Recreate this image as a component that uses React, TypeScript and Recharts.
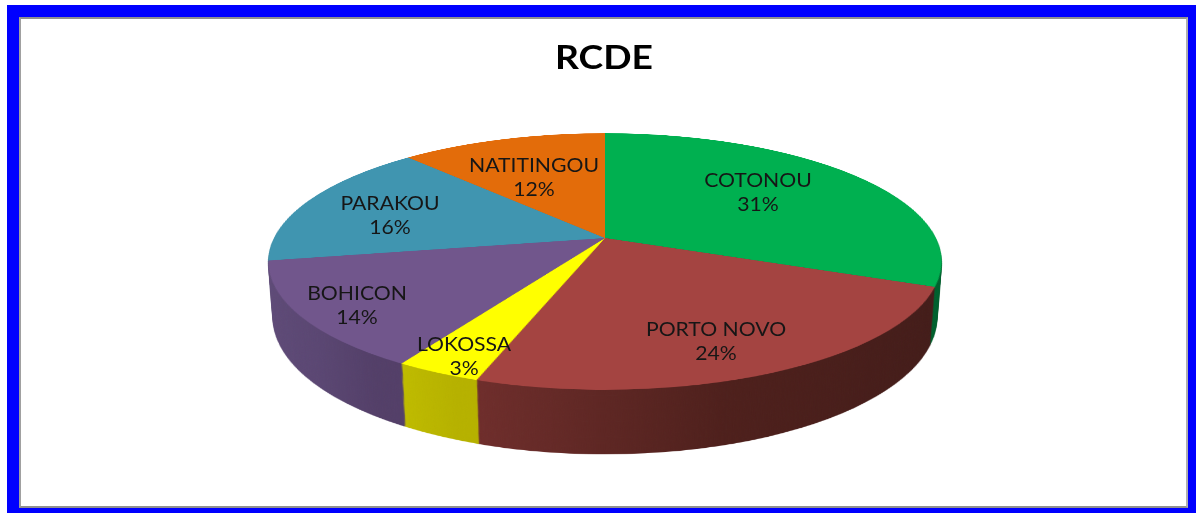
// RCDE — 3D pie: a stack of Recharts pies tilted with a CSS perspective, flat labels on top.
import { Cell, Pie, PieChart } from "recharts";

const regions = ["COTONOU", "PORTO NOVO", "LOKOSSA", "BOHICON", "PARAKOU", "NATITINGOU"];
// the labels show them rounded
const shares = [31, 24.2, 3.49, 13.51, 16, 11.8];
const topColors = ["#00b050", "#a44441", "#ffff00", "#71568c", "#4095b0", "#e36c0a"];
// left / middle / right shade of the outer wall
const wallShades = [
  ["#006b31", "#006b31", "#005a2a"],
  ["#722f2d", "#4e201c", "#421c19"],
  ["#c6c200", "#bdb900", "#b6b100"],
  ["#5f4b78", "#5a4672", "#533f68"],
  ["#2f7186", "#2f7186", "#2f7186"],
  ["#a94f07", "#a94f07", "#a94f07"],
];
// label centre, relative to the pie apex on screen
const labelOffsets = [
  [153, -46],
  [111, 103],
  [-141, 118],
  [-248, 67],
  [-215, -23],
  [-71, -61],
];

const data = regions.map((name, i) => ({ name, value: shares[i] }));

const WIDTH = 1196;
const HEIGHT = 513;
const APEX_X = 605;
const APEX_Y = 238;
const RADIUS = 331;
const SIZE = 680;
const DEPTH = 60;
const TEXT_STRETCH = 1.115;
const layers = Array.from({ length: DEPTH }, (_, i) => DEPTH - i);

function TiltedPie({ fills }: { fills: string[] }) {
  return (
    <PieChart width={SIZE} height={SIZE} margin={{ top: 0, right: 0, bottom: 0, left: 0 }}>
      <Pie
        data={data}
        dataKey="value"
        cx="50%"
        cy="50%"
        innerRadius={0}
        outerRadius={RADIUS}
        startAngle={90}
        endAngle={-270}
        stroke="none"
        isAnimationActive={false}
      >
        {data.map((d, i) => (
          <Cell key={d.name} fill={fills[i]} stroke="none" />
        ))}
      </Pie>
    </PieChart>
  );
}

function renderLabel(props: any) {
  const { cx, cy, index, name, value } = props;
  const [dx, dy] = labelOffsets[index];
  return (
    <text
      transform={`translate(${cx + dx} ${cy + dy}) scale(${TEXT_STRETCH} 1)`}
      textAnchor="middle"
      fontFamily="Lato, sans-serif"
      fontSize={19}
      fill="#161616"
    >
      <tspan x={0} dy={-5}>
        {name}
      </tspan>
      <tspan x={0} dy={24}>
        {Math.round(value)}%
      </tspan>
    </text>
  );
}

const wallFills = regions.map((_, i) => `url(#wall-${i})`);

export default function App() {
  return (
    <div
      style={{
        position: "fixed",
        left: 0,
        top: 0,
        width: WIDTH,
        height: HEIGHT,
        background: "#fff",
        overflow: "hidden",
      }}
    >
      {/* frame */}
      <div
        style={{
          position: "absolute",
          left: 7,
          top: 5,
          width: 1189,
          height: 508,
          background: "#0000ff",
        }}
      />
      <div
        style={{
          position: "absolute",
          left: 19,
          top: 17,
          width: 1169,
          height: 491,
          boxSizing: "border-box",
          background: "#fff",
          borderLeft: "2px solid #a0a0a0",
          borderTop: "2px solid #909090",
          borderRight: "2px solid #b0b0b0",
          borderBottom: "2px solid #909090",
        }}
      />

      <svg width={0} height={0} style={{ position: "absolute" }}>
        <defs>
          <linearGradient id="wall-0" gradientUnits="userSpaceOnUse" x1={600} x2={680} y1={0} y2={0}>
            <stop offset="0%" stopColor={wallShades[0][0]} />
            <stop offset="100%" stopColor={wallShades[0][2]} />
          </linearGradient>
          <linearGradient id="wall-1" gradientUnits="userSpaceOnUse" x1={213} x2={665} y1={0} y2={0}>
            <stop offset="0%" stopColor={wallShades[1][0]} />
            <stop offset="50%" stopColor={wallShades[1][1]} />
            <stop offset="100%" stopColor={wallShades[1][2]} />
          </linearGradient>
          <linearGradient id="wall-2" gradientUnits="userSpaceOnUse" x1={137} x2={215} y1={0} y2={0}>
            <stop offset="0%" stopColor={wallShades[2][0]} />
            <stop offset="50%" stopColor={wallShades[2][1]} />
            <stop offset="100%" stopColor={wallShades[2][2]} />
          </linearGradient>
          <linearGradient id="wall-3" gradientUnits="userSpaceOnUse" x1={5} x2={143} y1={0} y2={0}>
            <stop offset="0%" stopColor={wallShades[3][0]} />
            <stop offset="60%" stopColor={wallShades[3][1]} />
            <stop offset="100%" stopColor={wallShades[3][2]} />
          </linearGradient>
          <linearGradient id="wall-4" gradientUnits="userSpaceOnUse" x1={0} x2={SIZE} y1={0} y2={0}>
            <stop offset="0%" stopColor={wallShades[4][0]} />
            <stop offset="100%" stopColor={wallShades[4][2]} />
          </linearGradient>
          <linearGradient id="wall-5" gradientUnits="userSpaceOnUse" x1={0} x2={SIZE} y1={0} y2={0}>
            <stop offset="0%" stopColor={wallShades[5][0]} />
            <stop offset="100%" stopColor={wallShades[5][2]} />
          </linearGradient>
        </defs>
      </svg>

      {/* tilted pie with its side wall */}
      <div
        style={{
          position: "absolute",
          left: 0,
          top: 0,
          width: WIDTH,
          height: HEIGHT,
          perspective: 1677,
          perspectiveOrigin: `${APEX_X}px ${APEX_Y}px`,
        }}
      >
        <div
          style={{
            position: "absolute",
            left: APEX_X - SIZE / 2,
            top: APEX_Y - SIZE / 2,
            width: SIZE,
            height: SIZE,
            transformStyle: "preserve-3d",
            transformOrigin: "50% 50%",
            transform: "rotateX(68deg)",
          }}
        >
          {layers.map((z) => (
            <div key={z} style={{ position: "absolute", inset: 0, transform: `translateZ(${-z}px)` }}>
              <TiltedPie fills={wallFills} />
            </div>
          ))}
          <div style={{ position: "absolute", inset: 0, transform: "translateZ(0px)" }}>
            <TiltedPie fills={topColors} />
          </div>
        </div>
      </div>

      {/* title and labels stay flat */}
      <div style={{ position: "absolute", left: 0, top: 0 }}>
        <PieChart width={WIDTH} height={HEIGHT} margin={{ top: 0, right: 0, bottom: 0, left: 0 }}>
          <text
            transform={`translate(604 69) scale(1.13 1)`}
            textAnchor="middle"
            fontFamily="Lato, sans-serif"
            fontWeight={700}
            fontSize={33}
            fill="#000"
          >
            RCDE
          </text>
          <Pie
            data={data}
            dataKey="value"
            cx={APEX_X}
            cy={APEX_Y}
            outerRadius={RADIUS}
            startAngle={90}
            endAngle={-270}
            fill="none"
            stroke="none"
            label={renderLabel}
            labelLine={false}
            isAnimationActive={false}
          />
        </PieChart>
      </div>
    </div>
  );
}
